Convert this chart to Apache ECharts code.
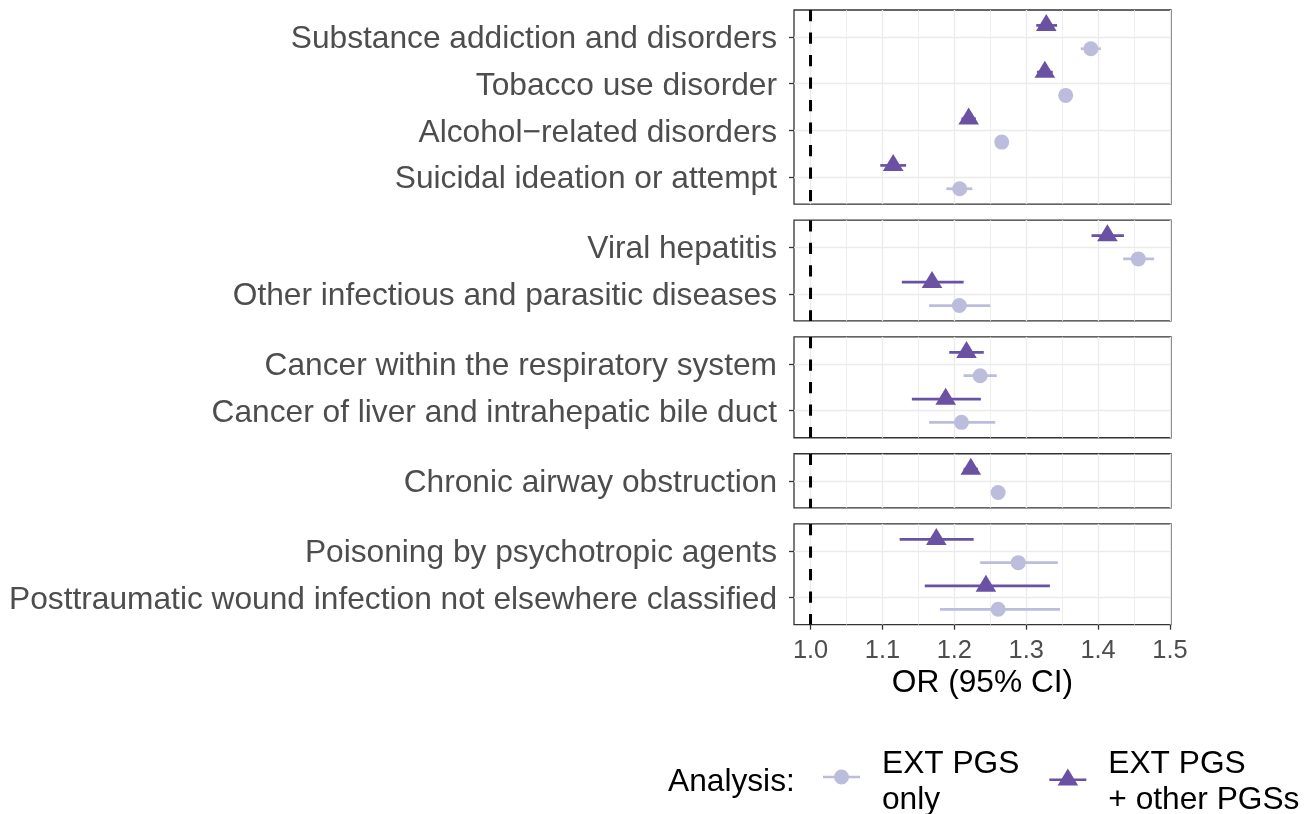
<!DOCTYPE html>
<html><head><meta charset="utf-8">
<script src="https://cdn.jsdelivr.net/npm/echarts@6/dist/echarts.min.js"></script>
<style>html,body{margin:0;padding:0;background:#fff}#c{width:1308px;height:814px}</style>
</head><body><div id="c"></div>
<script>
// ---------- data ----------
const categories = [
  "Substance addiction and disorders",
  "Tobacco use disorder",
  "Alcohol\u2212related disorders",
  "Suicidal ideation or attempt",
  "Viral hepatitis",
  "Other infectious and parasitic diseases",
  "Cancer within the respiratory system",
  "Cancer of liver and intrahepatic bile duct",
  "Chronic airway obstruction",
  "Poisoning by psychotropic agents",
  "Posttraumatic wound infection not elsewhere classified"
];
const panelOf = [0,0,0,0,1,1,2,2,3,4,4];

// EXT PGS only (circles)
const orOnly = [1.390,1.355,1.266,1.2075,1.456,1.207,1.236,1.210,1.261,1.289,1.261];
const loOnly = [1.376,1.347,1.259,1.189, 1.435,1.165,1.213,1.165,1.254,1.236,1.180];
const hiOnly = [1.404,1.363,1.273,1.225, 1.478,1.250,1.259,1.257,1.268,1.344,1.347];

// EXT PGS + other PGSs (triangles)
const orOther = [1.328,1.326,1.220,1.115,1.413,1.169,1.217,1.188,1.223,1.175,1.244];
const loOther = [1.314,1.315,1.210,1.097,1.391,1.127,1.193,1.141,1.213,1.124,1.159];
const hiOther = [1.343,1.337,1.230,1.133,1.436,1.213,1.241,1.237,1.233,1.227,1.333];

const xTicks = [1.0,1.1,1.2,1.3,1.4,1.5];
const xMinor = [1.05,1.15,1.25,1.35,1.45];
const refLine = [1.0];
const seriesNames = ["EXT PGS only","EXT PGS + other PGSs"];
const legendLabels = ["EXT PGS\nonly","EXT PGS\n+ other PGSs"];

// ---------- layout / style ----------
const FONT = '"Liberation Sans", Arial, Helvetica, sans-serif';
const COL_ONLY = '#BCBDDC', COL_OTHER = '#6A51A3';
const nPanels = 5;
const unit = 46.67, expand = 0.58, gap = 16, top0 = 10;
const gridLeft = 794, gridRight = 1308 - 1171;
const xMin = 0.977, xMax = 1.5015;

const panelCats = [];
for (let p = 0; p < nPanels; p++) panelCats.push([]);
categories.forEach((c, i) => panelCats[panelOf[i]].push(i));

const grids = [], xAxes = [], yAxes = [], series = [];
let y = top0;
for (let p = 0; p < nPanels; p++) {
  const idx = panelCats[p];
  const n = idx.length;
  const h = unit * (n - 1 + 2 * expand);
  grids.push({left: gridLeft, right: gridRight, top: y, height: h, show: true,
    borderColor: '#333333', borderWidth: 1.3, backgroundColor: 'transparent', outerBoundsMode: 'none'});
  y += h + gap;
  const last = p === nPanels - 1;
  // main x axis (index 2p)
  xAxes.push({type: 'value', gridIndex: p, min: xMin, max: xMax, position: 'bottom',
    axisLine: {show: false, onZero: false},
    axisTick: {show: last, length: 5, lineStyle: {color: '#333333', width: 1.3}, customValues: xTicks},
    minorTick: {show: false}, minorSplitLine: {show: false},
    axisLabel: {show: last, customValues: xTicks, formatter: v => v.toFixed(1), fontSize: 25.4,
      color: '#4D4D4D', fontFamily: FONT, margin: 14},
    splitLine: {show: true, lineStyle: {color: '#EBEBEB', width: 1.4}},
    name: last ? 'OR (95% CI)' : '', nameLocation: 'middle', nameGap: 43,
    nameTextStyle: {fontSize: 31.7, color: '#000', fontFamily: FONT}
  });
  // minor-grid x axis (index 2p+1)
  xAxes.push({type: 'value', gridIndex: p, min: xMin, max: xMax, position: 'bottom',
    axisLine: {show: false, onZero: false},
    axisTick: {show: false, customValues: xMinor},
    axisLabel: {show: false, customValues: xMinor},
    minorTick: {show: false}, minorSplitLine: {show: false},
    splitLine: {show: true, lineStyle: {color: '#EBEBEB', width: 0.8}}
  });
  const local = idx.map((_, k) => k);
  yAxes.push({type: 'value', gridIndex: p, inverse: true, min: -expand, max: n - 1 + expand, position: 'left',
    axisLine: {show: false, onZero: false},
    axisTick: {show: true, length: 5, lineStyle: {color: '#333333', width: 1.3}, customValues: local},
    minorTick: {show: false}, minorSplitLine: {show: false},
    axisLabel: {customValues: local, formatter: v => categories[idx[Math.round(v)]], fontSize: 31.7,
      color: '#4D4D4D', fontFamily: FONT, margin: 17, verticalAlign: 'top', lineHeight: 5},
    splitLine: {show: true, lineStyle: {color: '#EBEBEB', width: 1.4}}
  });
  const xi = 2 * p;
  // dashed reference line
  series.push({type: 'custom', xAxisIndex: xi, yAxisIndex: p, silent: true, z: 2,
    data: refLine.map(v => [v, 0]), encode: {x: 0, y: 1},
    renderItem: (params, api) => {
      const cs = params.coordSys;
      const x = api.coord([api.value(0), 0])[0];
      return {type: 'line', shape: {x1: x, y1: cs.y, x2: x, y2: cs.y + cs.height},
        style: {stroke: '#000', lineWidth: 3, lineDash: [11.3, 11.2], fill: null}};
    }});
  // point ranges
  const mk = (shape, color) => (params, api) => {
    const yy = api.value(3);
    const c = api.coord([api.value(0), yy]);
    const a = api.coord([api.value(1), yy]);
    const b = api.coord([api.value(2), yy]);
    const children = [{type: 'line', shape: {x1: a[0], y1: a[1], x2: b[0], y2: b[1]},
      style: {stroke: color, lineWidth: 2.7, fill: null}}];
    if (shape === 'circle') {
      children.push({type: 'circle', shape: {cx: c[0], cy: c[1], r: 7.5}, style: {fill: color, stroke: null}});
    } else {
      children.push({type: 'polygon', shape: {points: [[c[0], c[1] - 11.3], [c[0] + 10.3, c[1] + 5.7], [c[0] - 10.3, c[1] + 5.7]]},
        style: {fill: color, stroke: null}});
    }
    return {type: 'group', children};
  };
  series.push({type: 'custom', name: seriesNames[0], xAxisIndex: xi, yAxisIndex: p, z: 3,
    itemStyle: {color: COL_ONLY}, encode: {x: [0, 1, 2], y: 3},
    data: idx.map((i, k) => [orOnly[i], loOnly[i], hiOnly[i], k + 0.25]),
    renderItem: mk('circle', COL_ONLY)});
  series.push({type: 'custom', name: seriesNames[1], xAxisIndex: xi, yAxisIndex: p, z: 3,
    itemStyle: {color: COL_OTHER}, encode: {x: [0, 1, 2], y: 3},
    data: idx.map((i, k) => [orOther[i], loOther[i], hiOther[i], k - 0.25]),
    renderItem: mk('triangle', COL_OTHER)});
}

// legend keys: visible part in the top 17px of a 37x27 box (degenerate corner points fix the box)
const iconCircle = 'path://M0,0L0.01,0Z M37,27L36.99,27Z M0,7.3L37,7.3L37,9.7L0,9.7Z M11,8.5A7.5,7.5 0 1,1 26,8.5A7.5,7.5 0 1,1 11,8.5Z';
const iconTri = 'path://M37,27L36.99,27Z M0,10.1L37,10.1L37,12.6L0,12.6Z M18.5,0L28.8,17L8.2,17Z';

const option = {
  animation: false,
  backgroundColor: '#fff',
  textStyle: {fontFamily: FONT},
  title: {text: 'Analysis:', left: 668, top: 766, padding: 0,
    textStyle: {fontSize: 31.7, fontWeight: 'normal', color: '#000', fontFamily: FONT}},
  legend: {
    data: [{name: seriesNames[0], icon: iconCircle}, {name: seriesNames[1], icon: iconTri}],
    left: 823, top: 746, padding: 0, orient: 'horizontal',
    itemWidth: 37, itemHeight: 27, itemGap: 30, selectedMode: false,
    formatter: n => legendLabels[seriesNames.indexOf(n)],
    textStyle: {fontSize: 31.7, color: '#000', lineHeight: 36, fontFamily: FONT, padding: [0, 0, 0, 17]}
  },
  grid: grids, xAxis: xAxes, yAxis: yAxes, series
};
const chart = echarts.init(document.getElementById('c'), null, {renderer: 'canvas'});
chart.setOption(option);
</script></body></html>
